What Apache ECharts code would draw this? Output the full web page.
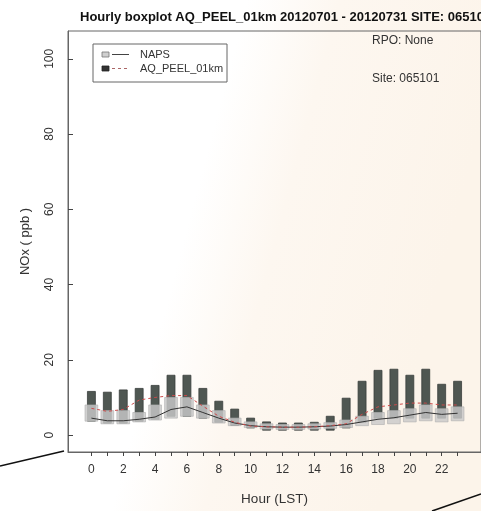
<!DOCTYPE html>
<html>
<head>
<meta charset="utf-8">
<script src="https://cdn.jsdelivr.net/npm/echarts@6/dist/echarts.min.js"></script>
<style>
  html, body { margin: 0; padding: 0; background: #fff; }
  #chart { width: 481px; height: 511px; }
</style>
</head>
<body>
<div id="chart"></div>
<script>
// Hour of day (LST)
const hours = [0, 1, 2, 3, 4, 5, 6, 7, 8, 9, 10, 11, 12, 13, 14, 15, 16, 17, 18, 19, 20, 21, 22, 23];

// NAPS observations: lower quartile, median, upper quartile (ppb)
const napsQ1  = [3.7, 3.0, 3.0, 3.5, 4.0, 4.5, 5.0, 4.5, 3.2, 2.5, 2.0, 1.6, 1.5, 1.5, 1.6, 1.8, 2.0, 2.5, 2.8, 3.0, 3.5, 3.8, 3.5, 3.8];
const napsMed = [4.5, 3.8, 3.8, 4.2, 4.8, 6.8, 7.5, 6.0, 4.5, 3.2, 2.5, 2.2, 2.1, 2.1, 2.2, 2.4, 2.8, 3.5, 4.2, 4.6, 5.3, 6.0, 5.5, 5.8];
const napsQ3  = [8.0, 6.5, 6.5, 6.0, 8.0, 10.0, 10.0, 8.0, 6.5, 4.5, 3.5, 3.0, 2.8, 2.8, 3.0, 3.3, 4.0, 5.0, 6.0, 6.5, 7.0, 8.0, 7.0, 7.5];

// AQ_PEEL_01km model: lower quartile, median, upper quartile (ppb)
const modelQ1  = [3.7, 3.2, 3.2, 3.7, 4.2, 5.0, 5.0, 4.5, 3.4, 2.6, 1.9, 1.3, 1.3, 1.3, 1.3, 1.3, 1.9, 3.4, 4.5, 4.5, 4.5, 4.5, 4.5, 4.5];
const modelMed = [7.1, 6.3, 6.8, 9.3, 10.0, 10.5, 10.5, 7.7, 5.0, 3.4, 2.4, 2.2, 2.1, 2.1, 2.2, 2.5, 3.0, 5.5, 7.5, 8.0, 8.5, 8.5, 8.0, 8.0];
const modelQ3  = [11.6, 11.4, 12.0, 12.4, 13.2, 15.9, 15.9, 12.4, 9.0, 6.9, 4.5, 3.5, 3.2, 3.2, 3.4, 5.0, 9.8, 14.3, 17.2, 17.5, 15.9, 17.5, 13.5, 14.3];

// Axis ticks and labels
const xTicks  = hours;
const xLabels = [0, 2, 4, 6, 8, 10, 12, 14, 16, 18, 20, 22];
const yTicks  = [0, 20, 40, 60, 80, 100];

const FONT = 'Liberation Sans, Arial, sans-serif';

// Draws one box per hour from [hour, q1, q3] using the chart's own scales
function boxRenderer(widthFrac, fill, stroke, opacity) {
  return function (params, api) {
    const x = api.value(0);
    const top = api.coord([x, api.value(2)]);
    const bot = api.coord([x, api.value(1)]);
    const w = api.size([1, 0])[0] * widthFrac;
    return {
      type: 'rect',
      shape: { x: top[0] - w / 2, y: top[1], width: w, height: bot[1] - top[1] },
      style: { fill: fill, stroke: stroke, lineWidth: 0.8, opacity: opacity }
    };
  };
}

const modelBoxes = hours.map((h, i) => [h, modelQ1[i], modelQ3[i]]);
const napsBoxes  = hours.map((h, i) => [h, napsQ1[i], napsQ3[i]]);
const modelLine  = hours.map((h, i) => [h, modelMed[i]]);
const napsLine   = hours.map((h, i) => [h, napsMed[i]]);

const chart = echarts.init(document.getElementById('chart'), null, { renderer: 'canvas' });

chart.setOption({
  animation: false,
  backgroundColor: {
    type: 'linear', x: 0, y: 0, x2: 1, y2: 0.25,
    colorStops: [
      { offset: 0, color: '#ffffff' },
      { offset: 0.48, color: '#ffffff' },
      { offset: 0.66, color: '#fdf7f0' },
      { offset: 1, color: '#fcf4ea' }
    ]
  },
  title: {
    text: 'Hourly boxplot AQ_PEEL_01km 20120701 - 20120731 SITE: 065101',
    left: 75, top: 6,
    textStyle: { fontFamily: FONT, fontSize: 13, fontWeight: 'bold', color: '#111' }
  },
  grid: {
    left: 68, top: 31, right: -11, bottom: 57,
    show: true, borderColor: '#666', borderWidth: 1, backgroundColor: 'transparent'
  },
  xAxis: {
    type: 'value', min: -1.47, max: 24.47,
    name: 'Hour (LST)', nameLocation: 'middle', nameGap: 40,
    nameTextStyle: { fontFamily: FONT, fontSize: 13.5, color: '#333' },
    axisLine: { show: true, onZero: false, lineStyle: { color: '#666' } },
    splitLine: { show: false },
    axisTick: { show: true, customValues: xTicks, length: 4, lineStyle: { color: '#444', width: 1 } },
    axisLabel: { customValues: xLabels, margin: 12, fontFamily: FONT, fontSize: 12, color: '#333' }
  },
  yAxis: {
    type: 'value', min: -4.5, max: 107.4, position: 'left',
    name: 'NOx ( ppb )', nameLocation: 'middle', nameGap: 36, nameRotate: 90,
    nameTextStyle: { fontFamily: FONT, fontSize: 13, color: '#333' },
    axisLine: { show: true, onZero: false, lineStyle: { color: '#666' } },
    splitLine: { show: false },
    // the tick direction is flipped for this axis, so inside:true points them outward
    axisTick: { show: true, inside: true, customValues: yTicks, length: 5, lineStyle: { color: '#444', width: 1 } },
    axisLabel: { customValues: yTicks, rotate: 90, margin: 12, fontFamily: FONT, fontSize: 12, color: '#333' }
  },
  series: [
    {
      name: 'AQ_PEEL_01km', type: 'custom', z: 2,
      renderItem: boxRenderer(0.5, '#4f5752', '#3a3f3c', 1),
      encode: { x: 0, y: [1, 2] },
      data: modelBoxes
    },
    {
      name: 'NAPS', type: 'custom', z: 3,
      renderItem: boxRenderer(0.8, '#c9c9c9', '#b0b0b0', 0.82),
      encode: { x: 0, y: [1, 2] },
      data: napsBoxes
    },
    {
      name: 'NAPS median', type: 'line', z: 4, symbol: 'none',
      lineStyle: { color: '#333', width: 1 },
      data: napsLine
    },
    {
      name: 'AQ_PEEL_01km median', type: 'line', z: 5, symbol: 'none',
      lineStyle: { color: '#cc4a4a', width: 1, type: [3, 3] },
      data: modelLine
    }
  ],
  graphic: [
    // legend frame
    { type: 'rect', shape: { x: 93, y: 44, width: 134, height: 38 },
      style: { fill: 'transparent', stroke: '#666', lineWidth: 1 } },
    { type: 'rect', shape: { x: 102, y: 52, width: 7, height: 5 },
      style: { fill: '#cfcfcf', stroke: '#777', lineWidth: 0.8 } },
    { type: 'line', shape: { x1: 112, y1: 54.5, x2: 129, y2: 54.5 },
      style: { stroke: '#444', lineWidth: 1 } },
    { type: 'text', left: 140, top: 49,
      style: { text: 'NAPS', fontFamily: FONT, fontSize: 11, fill: '#333' } },
    { type: 'rect', shape: { x: 102, y: 66, width: 7, height: 5 },
      style: { fill: '#333', stroke: '#222', lineWidth: 0.8 } },
    { type: 'line', shape: { x1: 112, y1: 68.5, x2: 129, y2: 68.5 },
      style: { stroke: '#aa6666', lineWidth: 1, lineDash: [3, 3] } },
    { type: 'text', left: 140, top: 63,
      style: { text: 'AQ_PEEL_01km', fontFamily: FONT, fontSize: 11, fill: '#333' } },
    // annotations
    { type: 'text', left: 372, top: 35,
      style: { text: 'RPO: None', fontFamily: FONT, fontSize: 12, fill: '#333' } },
    { type: 'text', left: 372, top: 73,
      style: { text: 'Site: 065101', fontFamily: FONT, fontSize: 12, fill: '#333' } },
    // edge strokes along the bottom
    { type: 'line', shape: { x1: 0, y1: 466, x2: 64, y2: 451 },
      style: { stroke: '#111', lineWidth: 1.6 } },
    { type: 'line', shape: { x1: 432, y1: 511, x2: 481, y2: 494 },
      style: { stroke: '#111', lineWidth: 1.6 } }
  ]
});
</script>
</body>
</html>
